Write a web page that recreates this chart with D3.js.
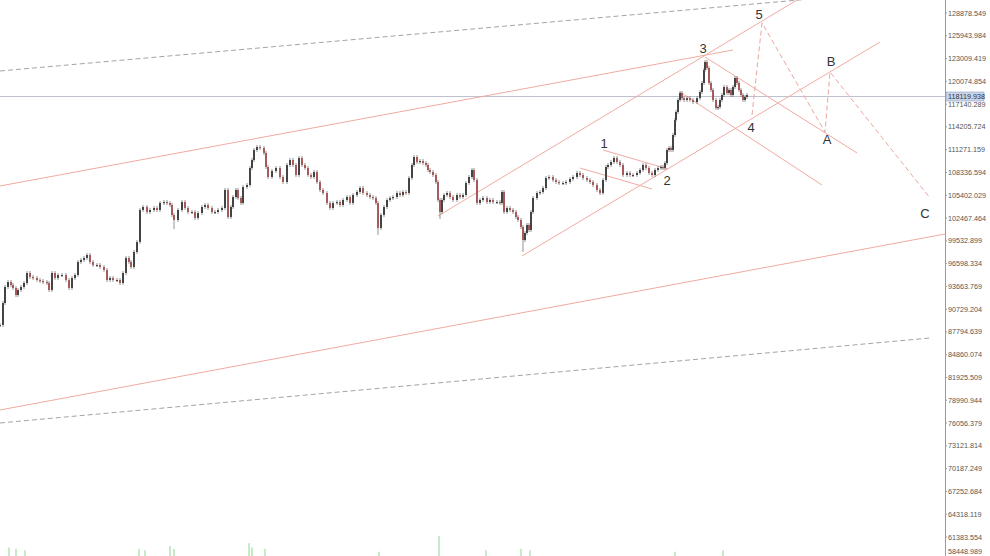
<!DOCTYPE html>
<html><head><meta charset="utf-8">
<script src="https://cdn.jsdelivr.net/npm/d3@7"></script>
<style>html,body{margin:0;padding:0;background:#fff;overflow:hidden}</style>
</head><body>
<svg id="c" width="990" height="556"></svg>
<script>
// ---- DATA ----
const bars = [0,3,5,8,11,13,16,18,21,24,27,30,33,37,40,43,47,49,52,55,58,62,66,69,72,75,78,81,84,87,90,93,97,100,104,107,110,113,117,120,123,126,129,131,134,137,140,143,147,150,154,157,160,164,167,170,172,174,178,182,185,188,192,195,198,202,205,208,212,215,218,222,225,228,231,233,236,238,241,243,247,250,252,254,257,260,264,266,268,272,276,280,283,287,290,293,296,299,302,305,308,311,314,317,320,323,327,330,333,337,340,343,347,350,353,357,360,363,367,370,373,376,378,381,384,387,390,393,397,400,403,406,409,412,414,417,420,423,426,428,430,433,436,438,440,442,444,447,450,453,457,460,463,466,469,472,474,477,480,483,487,490,493,497,500,502,504,507,510,513,516,518,521,523,525,527,529,531,533,537,540,543,546,549,553,556,559,563,566,570,573,577,580,583,587,590,593,597,600,603,606,608,611,614,617,620,623,627,630,633,637,640,643,646,649,652,655,658,661,663,665,667,669,671,673,675,676,678,680,682,684,687,690,693,697,700,702,704,705,707,709,711,713,716,718,720,722,724,727,729,731,733,735,737,739,741,743,745,747];
const closes = [88693,91527,93587,94231,93845,93459,92557,93201,93587,94102,95390,94875,94746,94489,94360,94231,94102,93201,95390,94746,95133,95133,94489,93459,94746,95133,96807,97065,97323,97709,96807,96421,96421,96163,95777,94489,94746,94489,94489,94102,95390,97323,96807,96163,98095,99383,103505,103891,103247,103505,103762,103505,104407,104535,104407,104149,102861,102217,103505,104535,103762,103247,103247,102475,103119,103891,104149,103762,103247,103247,103505,103762,106081,102603,103891,105179,106081,105051,104407,106467,106725,108915,109945,111233,111619,111491,110847,109043,107755,108528,108915,107755,107111,109301,109945,109301,108013,110203,109301,108915,108013,107755,108399,107111,106081,105695,104407,103762,104407,104535,104149,104793,105179,104407,105437,105823,106339,105695,105437,105179,105051,104407,101187,102861,103891,104793,105051,105179,105695,105437,105823,105695,107627,109301,110332,109687,109816,109559,109301,108657,108399,108013,107111,104793,103247,104793,105437,105695,105179,104793,105437,105179,105437,106983,107755,108657,107369,104407,104793,105051,104535,104793,104535,104535,104407,105823,103247,103762,103505,103247,102603,102217,101315,99641,100543,101573,100929,103247,105051,105695,105823,106339,107627,107755,107369,107111,106983,106983,107111,107498,107755,108271,108013,107627,107369,107111,106725,106081,105695,107369,109043,109301,109687,110203,109687,109301,108013,108271,108013,108013,108271,108657,109301,108915,108271,108013,108657,108915,109043,108915,109559,111233,111491,111233,113165,115097,116127,117673,118575,117909,117673,117909,117673,117415,117909,118703,119863,121537,122567,121795,119863,118961,117673,116643,116771,117673,118317,119347,118575,118961,118317,119347,120507,119863,118961,118317,117673,118059,118317];
const spikeBars = [378, 523, 440, 174];
const spikeLows = [100543, 98353, 102600, 101300];

const priceTicks = [128878.549,125943.984,123009.419,120074.854,117140.289,114205.724,111271.159,108336.594,105402.029,102467.464,99532.899,96598.334,93663.769,90729.204,87794.639,84860.074,81925.509,78990.944,76056.379,73121.814,70187.249,67252.684,64318.119,61383.554,58448.989];
const lastPrice = 118119.938;

// volume spikes (bar, relative volume)
const volBars = [9,16,25,139,145,170,174,249,252,265,379,439,486,521,530,675,723];
const volValues = [6,5,4,5,4,7,5,9,6,5,3,14,4,5,4,3,4];

// trendlines: [bar1, price1, bar2, price2]
const solidLines = [
  [0,106596, 733,124113],
  [0,77745, 945,100414],
  [438,102732, 797,130553],
  [522,97580, 880,125143],
  [603,111233, 668,108786],
  [580,108915, 652,106210],
  [705,123211, 857,110846],
  [680,118703, 822,106725]
];
const dashedGrey = [
  [0,121408, 945,132227],
  [0,76071, 930,87018]
];
const wavePathBars = [752,762,825,830,930];
const wavePathPrices = [115741,127591,113551,121279,105051];
const waveLabels = ["1","2","3","4","5","A","B","C"];
const waveLabelBars = [604,667,703,751,759,827,831,925];
const waveLabelPrices = [112006,107240,124242,114067,128621,112521,122567,102990];

// ---- DRAW ----
const W = 990, H = 556, plotRight = 945;
const svg = d3.select("#c");
svg.append("rect").attr("width",W).attr("height",H).attr("fill","#fff");
const x = d3.scaleLinear().domain([0,945]).range([0,plotRight]);
const y = d3.scaleLinear().domain([61383.554,128878.549]).range([537,13]);

svg.append("defs").append("clipPath").attr("id","plot")
  .append("rect").attr("x",0).attr("y",0).attr("width",plotRight).attr("height",H);
const g = svg.append("g").attr("clip-path","url(#plot)");

// volume
const vy = d3.scaleLinear().domain([0,14]).range([556,536]);
g.selectAll("line.vol").data(volBars).join("line")
  .attr("x1",(d)=>x(d)).attr("x2",(d)=>x(d))
  .attr("y1",556).attr("y2",(d,i)=>vy(volValues[i]))
  .attr("stroke","#8fd48f").attr("stroke-width",1);

// current price line
g.append("line").attr("x1",0).attr("x2",plotRight)
  .attr("y1",y(lastPrice)).attr("y2",y(lastPrice))
  .attr("stroke","#bcc2cc").attr("stroke-width",1);

// dashed grey
g.selectAll("line.dg").data(dashedGrey).join("line")
  .attr("x1",d=>x(d[0])).attr("y1",d=>y(d[1])).attr("x2",d=>x(d[2])).attr("y2",d=>y(d[3]))
  .attr("stroke","#8c8c8c").attr("stroke-width",0.8).attr("stroke-dasharray","5,3");

// solid pink lines
g.selectAll("line.sl").data(solidLines).join("line")
  .attr("x1",d=>x(d[0])).attr("y1",d=>y(d[1])).attr("x2",d=>x(d[2])).attr("y2",d=>y(d[3]))
  .attr("stroke","#f0aaa2").attr("stroke-width",1);

// wave path dashed
const wp = wavePathBars.map((b,i)=>[x(b), y(wavePathPrices[i])]);
g.append("path").attr("d", d3.line()(wp)).attr("fill","none")
  .attr("stroke","#eea49c").attr("stroke-width",1).attr("stroke-dasharray","5,3");

// candles
const cg = g.append("g");
bars.forEach((b,i)=>{
  const c = closes[i];
  const o = i>0 ? closes[i-1] : c;
  const bear = c < o;
  const col = bear ? "#a85a5a" : "#444";
  const hi = Math.max(o,c), lo = Math.min(o,c);
  const si = spikeBars.indexOf(b);
  const lowW = si>=0 ? Math.min(lo, spikeLows[si]) : lo;
  cg.append("line").attr("x1",x(b)).attr("x2",x(b))
    .attr("y1",y(hi)-2).attr("y2",y(lowW)+2).attr("stroke","#666").attr("stroke-width",0.7);
  cg.append("rect").attr("x",x(b)-1).attr("width",2)
    .attr("y",y(hi)).attr("height",Math.max(1.2,y(lo)-y(hi)))
    .attr("fill",col);
});

// wave labels
g.selectAll("text.wl").data(waveLabels).join("text")
  .attr("x",(d,i)=>x(waveLabelBars[i])).attr("y",(d,i)=>y(waveLabelPrices[i]))
  .attr("text-anchor","middle").attr("dominant-baseline","central")
  .attr("font-family","Liberation Sans, Arial, sans-serif").attr("font-size",13)
  .attr("fill","#333").text(d=>d);

// axis
svg.append("line").attr("x1",plotRight+0.5).attr("x2",plotRight+0.5).attr("y1",0).attr("y2",H)
  .attr("stroke","#9a9a9a").attr("stroke-width",1);
const ax = svg.append("g");
ax.selectAll("text").data(priceTicks).join("text")
  .attr("x",948).attr("y",d=>Math.min(y(d), 551)).attr("dominant-baseline","central")
  .attr("font-family","Liberation Sans, Arial, sans-serif").attr("font-size",7.2)
  .attr("fill","#555").text(d=>d.toFixed(3));
ax.selectAll("line").data(priceTicks).join("line")
  .attr("x1",plotRight).attr("x2",plotRight+2).attr("y1",d=>y(d)).attr("y2",d=>y(d))
  .attr("stroke","#9a9a9a");

// last price tag
const ly = y(lastPrice);
svg.append("rect").attr("x",946).attr("y",ly-4.5).attr("width",38).attr("height",9)
  .attr("fill","#c9d5ea").attr("stroke","#8fa0c4").attr("stroke-width",0.6);
svg.append("text").attr("x",948).attr("y",ly).attr("dominant-baseline","central")
  .attr("font-family","Liberation Sans, Arial, sans-serif").attr("font-size",7.2)
  .attr("fill","#333").text(lastPrice.toFixed(3));
</script>
</body></html>
